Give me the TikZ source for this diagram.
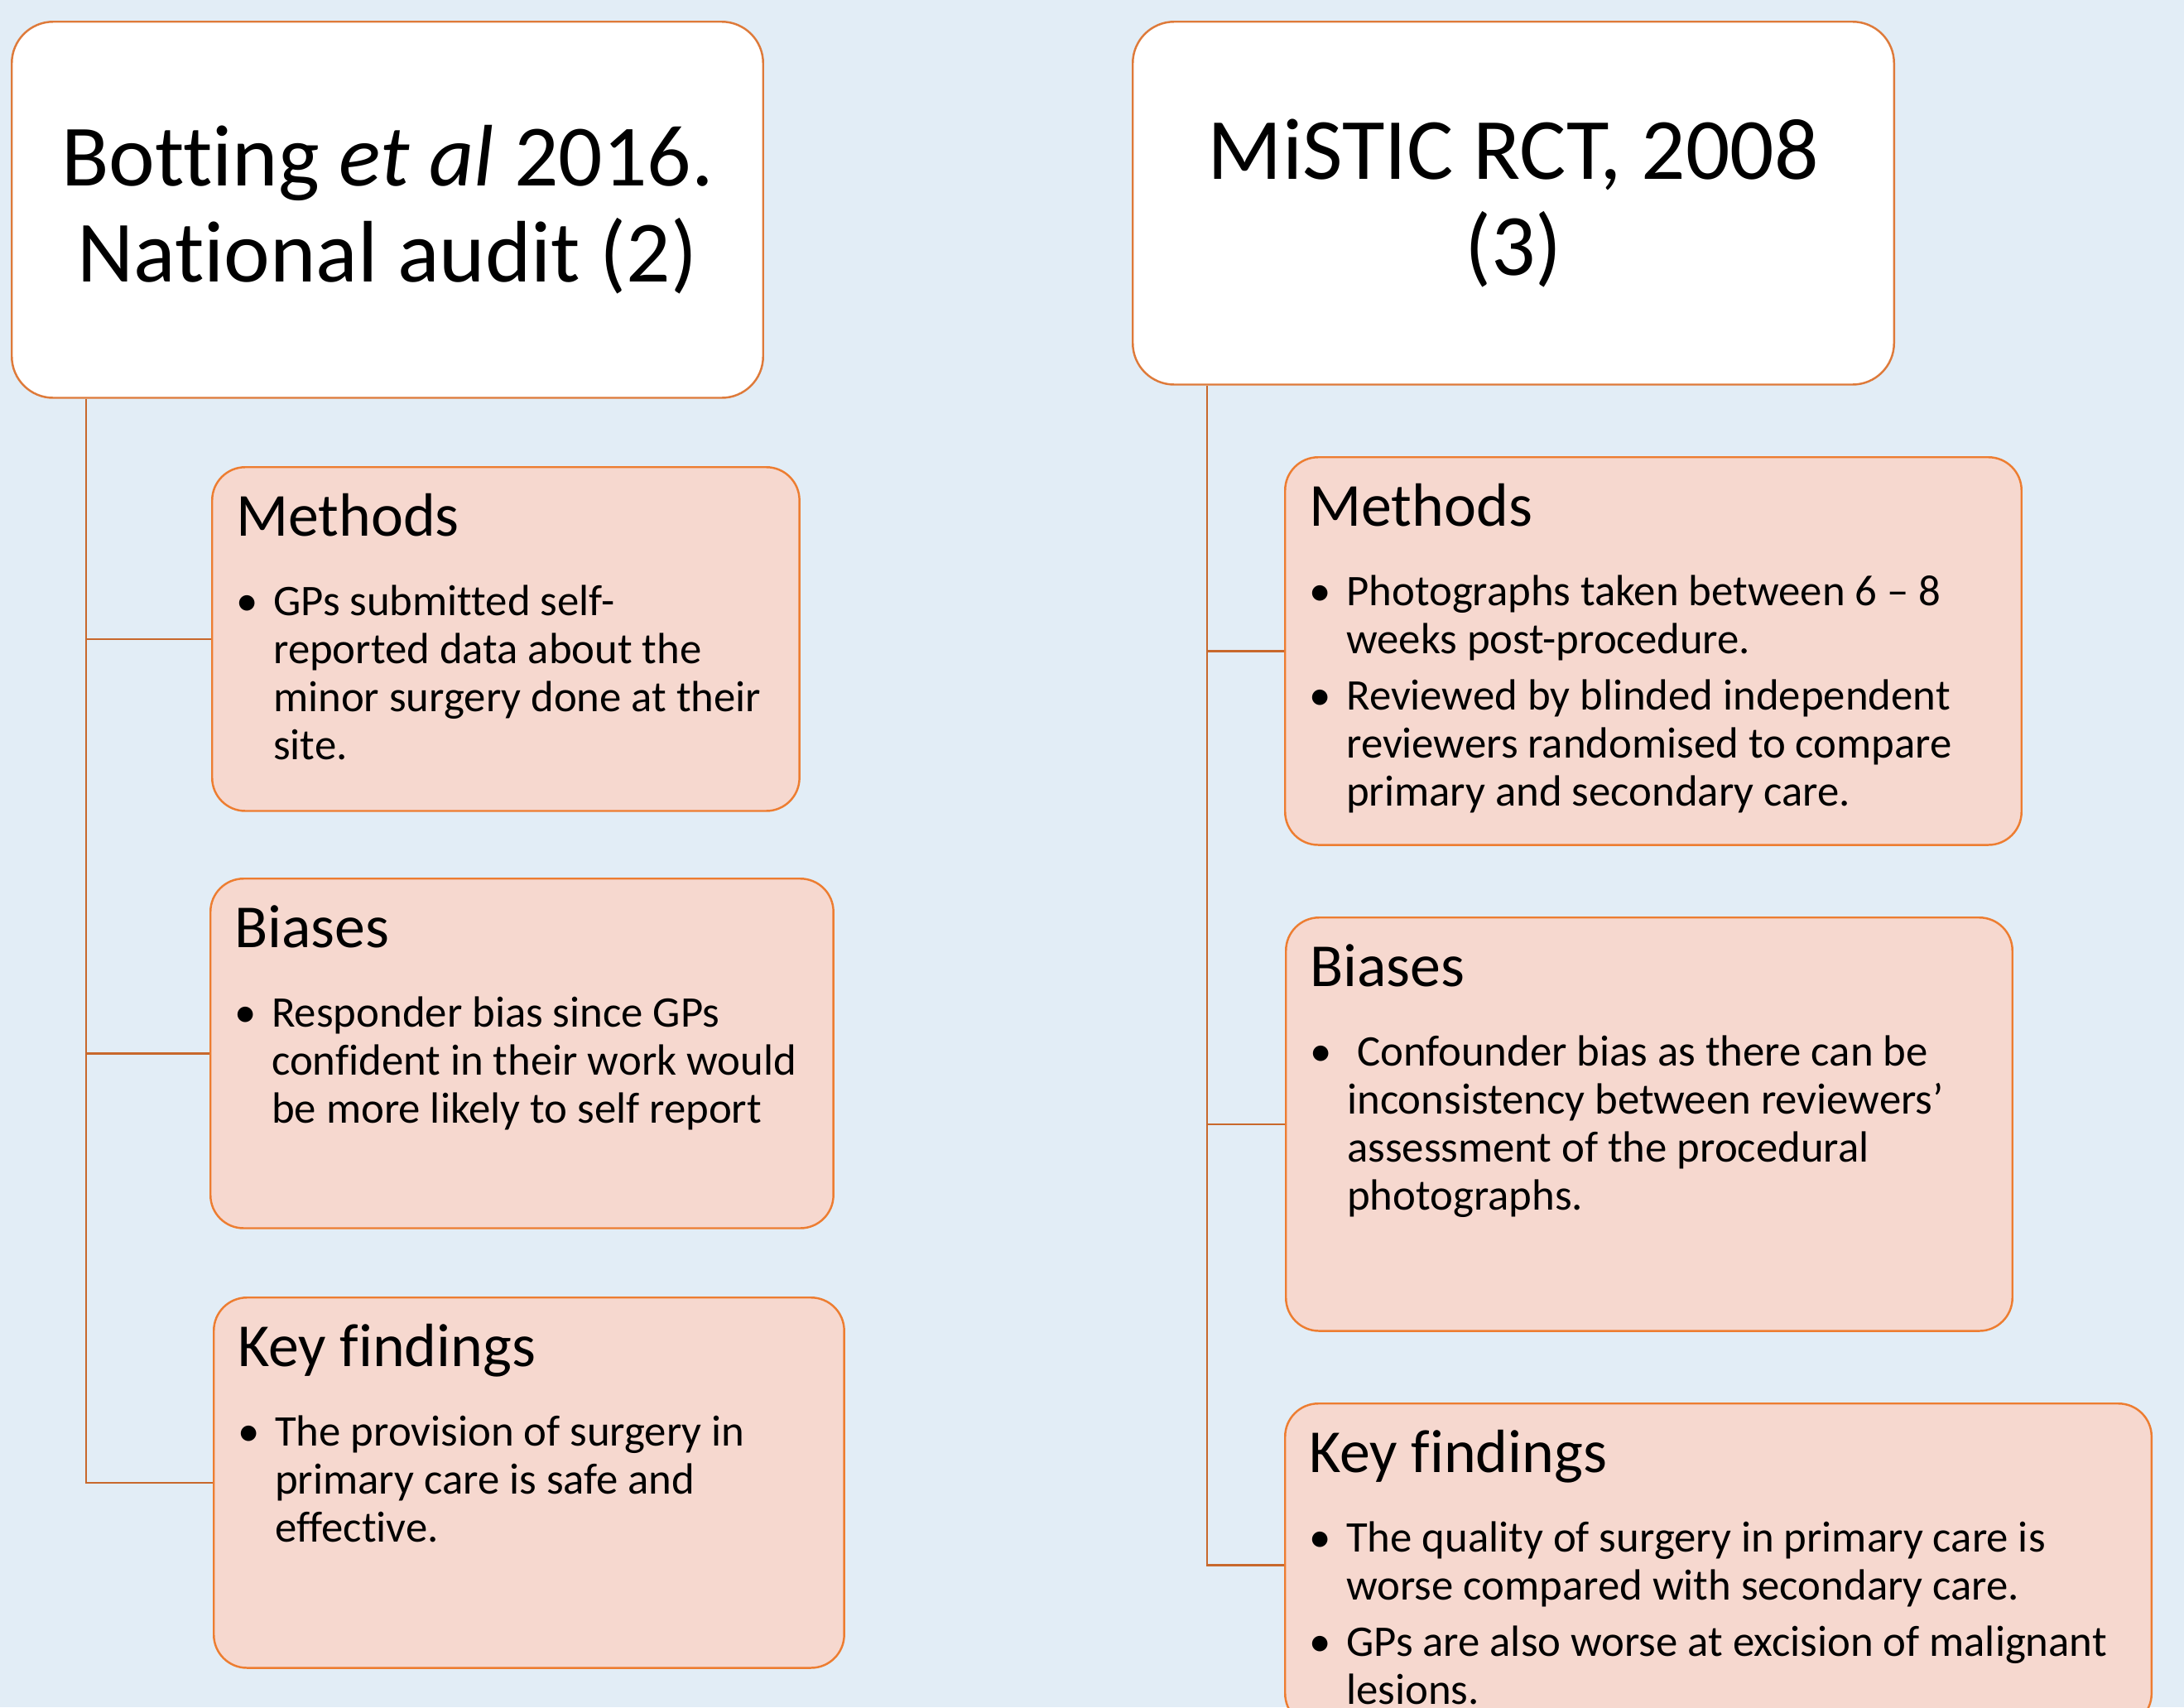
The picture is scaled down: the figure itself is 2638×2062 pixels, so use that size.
\documentclass[tikz,border=0pt]{standalone}
\usepackage{fontspec}
\setmainfont{Carlito}[Ligatures={TeX,NoCommon}]
\usepackage{tikz}

\definecolor{backdrop}{RGB}{226,237,246}
\definecolor{boxfill}{RGB}{246,216,207}
\definecolor{boxedge}{RGB}{237,125,49}
\definecolor{headedge}{RGB}{222,122,58}
\definecolor{linkcol}{RGB}{200,104,44}

% bullet line with hanging indent
\newcommand{\bul}[1]{\par\vspace{0.1cm}\hangindent=0.45cm\hangafter=1\noindent\makebox[0.45cm][l]{\textbullet}#1\par}
% heading of a pink box
\newcommand{\boxtitle}[1]{{\fontsize{21pt}{24pt}\selectfont\rule{0pt}{0.6cm}#1\par}\vspace{0.28cm}}

\begin{document}
\begin{tikzpicture}[x=0.01cm, y=-0.01cm,
    head/.style={draw=headedge, fill=white, line width=0.7pt, rounded corners=0.5cm,
                 anchor=north west, align=center, font=\fontsize{30pt}{33pt}\selectfont},
    panel/.style 2 args={draw=boxedge, fill=boxfill, line width=0.7pt, rounded corners=0.4cm,
                 anchor=north west, inner xsep=0.29cm, inner ysep=0.23cm,
                 execute at begin node={\begin{minipage}[t][#2][t]{#1}\fontsize{15pt}{16.5pt}\selectfont\lineskiplimit=-20pt},
                 execute at end node={\end{minipage}}},
    link/.style={draw=linkcol, line width=0.7pt}]

  \useasboundingbox (0,0) rectangle (2638,2062);
  \clip (0,0) rectangle (2638,2062);
  \fill[backdrop] (0,0) rectangle (2638,2062);

  % left column
  \node[head, minimum width=9.07cm, minimum height=4.54cm] (lhead) at (13,25)
    {Botting \textit{et al} 2016.\\National audit (2)};

  \node[panel={6.51cm}{3.69cm}] (lmeth) at (255,563) {%
    \boxtitle{Methods}
    \bul{GPs submitted self-\\reported data about the\\minor surgery done at their\\site.}};

  \node[panel={6.94cm}{3.76cm}] (lbias) at (253,1060) {%
    \boxtitle{Biases}
    \bul{Responder bias since GPs\\confident in their work would\\be more likely to self report}};

  \node[panel={7.03cm}{4.01cm}] (lkey) at (257,1566) {%
    \boxtitle{Key findings}
    \bul{The provision of surgery in\\primary care is safe and\\effective.}};

  % right column
  \node[head, minimum width=9.19cm, minimum height=4.38cm] (rhead) at (1367,25)
    {MiSTIC RCT, 2008\\(3)};

  \node[panel={8.31cm}{4.22cm}] (rmeth) at (1551,551) {%
    \boxtitle{Methods}
    \bul{Photographs taken between 6 \textendash\ 8\\weeks post-procedure.}
    \bul{Reviewed by blinded independent\\reviewers randomised to compare\\primary and secondary care.}};

  \node[panel={8.19cm}{4.53cm}] (rbias) at (1552,1107) {%
    \boxtitle{Biases}
    \bul{\ Confounder bias as there can be\\inconsistency between reviewers’\\assessment of the procedural\\photographs.}};

  \node[panel={9.88cm}{3.44cm}] (rkey) at (1551,1694) {%
    \boxtitle{Key findings}
    \bul{The quality of surgery in primary care is\\worse compared with secondary care.}
    \bul{GPs are also worse at excision of malignant\\lesions.}};

  % tree lines
  \coordinate (ltrunk) at ([xshift=0.91cm]lhead.south west);
  \coordinate (rtrunk) at ([xshift=0.91cm]rhead.south west);
  \draw[link] (ltrunk) |- (lmeth.west) (ltrunk) |- (lbias.west) (ltrunk) |- (lkey.west);
  \draw[link] (rtrunk) |- (rmeth.west) (rtrunk) |- (rbias.west) (rtrunk) |- (rkey.west);
\end{tikzpicture}
\end{document}
